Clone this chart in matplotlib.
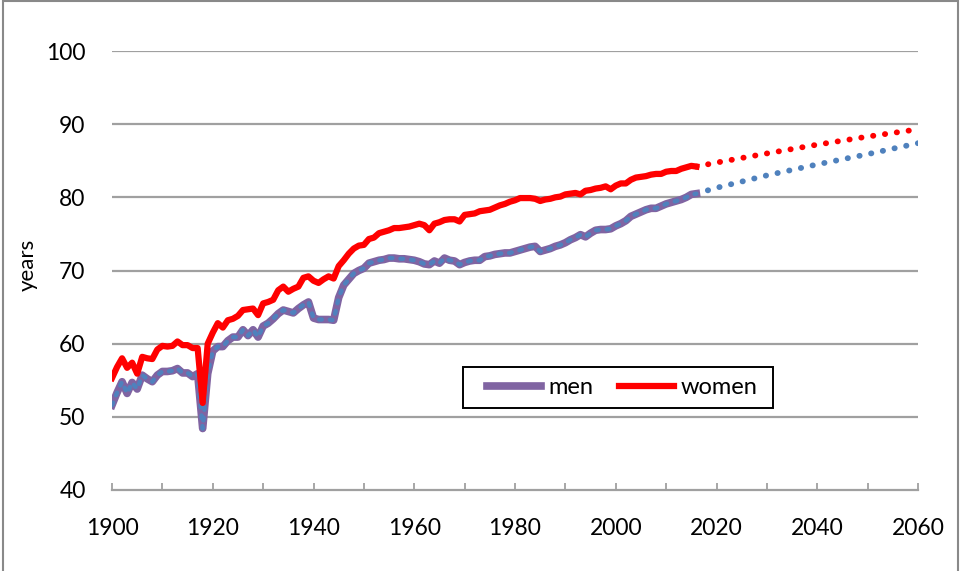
import numpy as np
import matplotlib.pyplot as plt
from matplotlib.patches import Rectangle

plt.rcParams['font.family'] = ['Lato', 'DejaVu Sans']

years = np.arange(1900, 2017)
men = [51.6, 53.3, 54.8, 53.2, 54.7, 53.8, 55.7, 55.2, 54.8, 55.7,
       56.2, 56.2, 56.3, 56.6, 56.0, 56.0, 55.5, 55.9, 48.4, 55.9,
       59.0, 59.6, 59.6, 60.4, 60.9, 60.9, 61.9, 61.1, 61.9, 60.9,
       62.4, 62.8, 63.4, 64.1, 64.6, 64.4, 64.2, 64.8, 65.3, 65.7,
       63.5, 63.3, 63.3, 63.3, 63.2, 66.3, 68.0, 68.8, 69.6, 70.0,
       70.3, 71.0, 71.2, 71.4, 71.5, 71.7, 71.7, 71.6, 71.6, 71.5,
       71.4, 71.2, 70.9, 70.8, 71.3, 71.0, 71.7, 71.4, 71.3, 70.8,
       71.1, 71.3, 71.4, 71.4, 71.9, 72.0, 72.2, 72.3, 72.4, 72.4,
       72.6, 72.8, 73.0, 73.2, 73.3, 72.6, 72.8, 73.0, 73.3, 73.5,
       73.8, 74.2, 74.5, 74.9, 74.6, 75.1, 75.5, 75.6, 75.6, 75.7,
       76.1, 76.4, 76.8, 77.4, 77.7, 78.0, 78.3, 78.5, 78.5, 78.8,
       79.1, 79.3, 79.5, 79.7, 80.0, 80.4, 80.5]
women = [55.3, 56.8, 58.0, 56.7, 57.4, 55.9, 58.2, 58.0, 57.9, 59.2,
         59.7, 59.6, 59.7, 60.3, 59.8, 59.8, 59.4, 59.4, 51.9, 60.0,
         61.5, 62.8, 62.2, 63.2, 63.4, 63.8, 64.6, 64.7, 64.8, 63.9,
         65.5, 65.7, 66.0, 67.3, 67.8, 67.1, 67.5, 67.8, 69.0, 69.2,
         68.6, 68.3, 68.8, 69.2, 68.9, 70.6, 71.4, 72.3, 73.0, 73.4,
         73.5, 74.3, 74.5, 75.1, 75.3, 75.5, 75.8, 75.8, 75.9, 76.0,
         76.2, 76.4, 76.2, 75.5, 76.4, 76.6, 76.9, 77.0, 77.0, 76.7,
         77.6, 77.7, 77.8, 78.1, 78.2, 78.3, 78.6, 78.9, 79.1, 79.4,
         79.6, 79.9, 79.9, 79.9, 79.8, 79.5, 79.7, 79.8, 80.0, 80.1,
         80.4, 80.5, 80.6, 80.4, 80.9, 81.0, 81.2, 81.3, 81.5, 81.1,
         81.6, 81.9, 81.9, 82.4, 82.7, 82.8, 82.9, 83.1, 83.2, 83.2,
         83.5, 83.6, 83.6, 83.9, 84.1, 84.3, 84.2]

proj_years = [2016, 2020, 2030, 2040, 2050, 2060]
men_proj = [80.5, 81.3, 83.0, 84.5, 85.9, 87.4]
women_proj = [84.2, 84.75, 86.0, 87.2, 88.3, 89.3]

fig = plt.figure(figsize=(9.6, 5.71), dpi=100)
ax = fig.add_axes([112/960, 1-490/571, 806/960, 439/571])

grid_c = '#a0a0a0'
for v in range(50, 101, 10):
    ax.axhline(v, color=grid_c, lw=1.6, zorder=1)

# projections (dotted)
ax.plot(proj_years, women_proj, color='#ff0000', lw=4.2,
        linestyle=(0, (0.05, 2.0)), dash_capstyle='round', zorder=3)
ax.plot(proj_years, men_proj, color='#4f81bd', lw=4.2,
        linestyle=(0, (0.05, 2.0)), dash_capstyle='round', zorder=3)

# history
ax.plot(years, men, color='#8064a2', lw=5.5, solid_joinstyle='round', zorder=4, label='men')
ax.plot(years, men, color='#4f81bd', lw=3.2, linestyle=(0, (0.6, 1.8)),
        dash_capstyle='round', zorder=5)
ax.plot(years, women, color='#ff0000', lw=4.5, solid_joinstyle='round', zorder=6, label='women')

ax.set_xlim(1900, 2060)
ax.set_ylim(40, 100)
ax.set_yticks(range(40, 101, 10))
ax.set_xticks(range(1900, 2061, 10))
ax.set_xticklabels([str(y) if (y - 1900) % 20 == 0 else '' for y in range(1900, 2061, 10)])

for s in ['top', 'right', 'left']:
    ax.spines[s].set_visible(False)
ax.spines['bottom'].set_color(grid_c)
ax.spines['bottom'].set_linewidth(1.6)
ax.tick_params(axis='y', length=0, pad=19, labelsize=16.5)
ax.tick_params(axis='x', direction='in', length=5, width=1.3, color=grid_c, pad=20, labelsize=16.5)

# legend box drawn separately so its size matches
ax.add_patch(Rectangle((0.4355, 0.1868), 0.3846, 0.0934, transform=ax.transAxes,
                       facecolor='white', edgecolor='black', lw=1.4, zorder=7))
leg = ax.legend(loc='center', bbox_to_anchor=(0.633, 0.2335), ncol=2, frameon=False,
                fontsize=17, handlelength=2.3, handletextpad=0.3, columnspacing=1.1,
                borderaxespad=0)
leg.set_zorder(8)

fig.text(0.029, 0.536, 'years', rotation=90, ha='center', va='center', fontsize=16)

fig.patches.append(Rectangle((3/960, -0.01), 955/960, 1.01 - 1/571, transform=fig.transFigure,
                             fill=False, edgecolor='#898989', lw=1.5))

fig.savefig('out.png', dpi=100)
